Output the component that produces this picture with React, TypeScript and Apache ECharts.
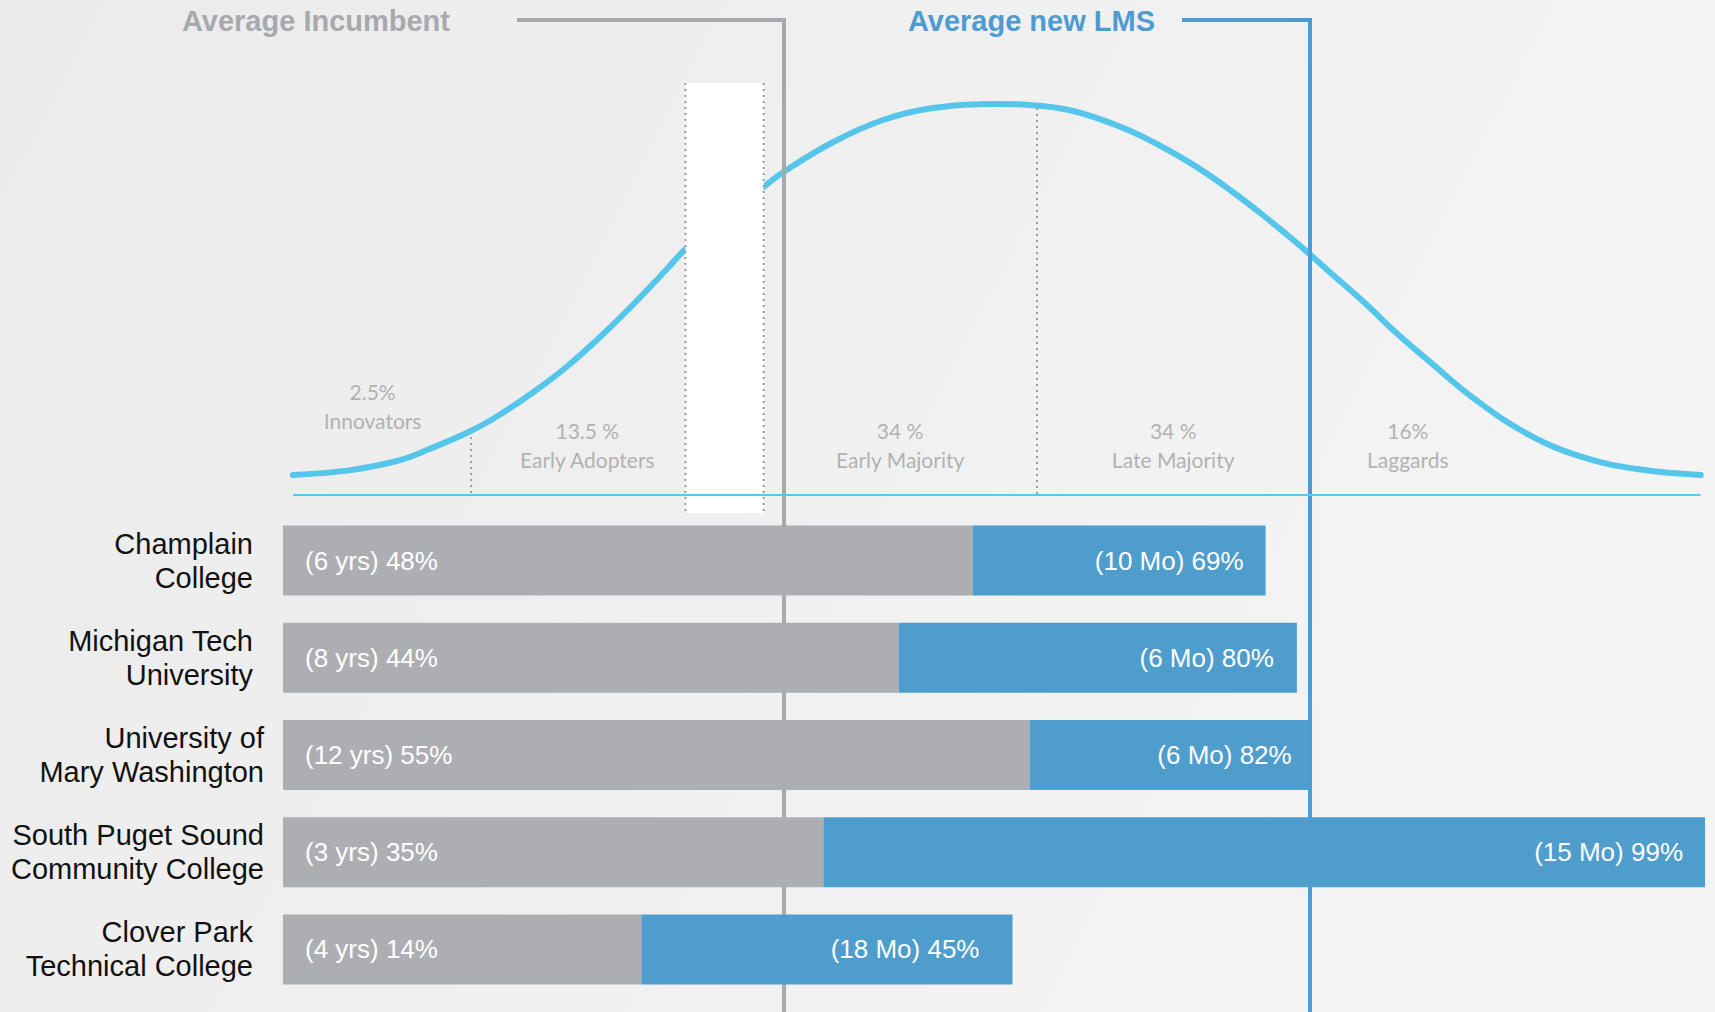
import React, { useEffect, useRef } from "react";
import * as echarts from "echarts";

// ---------- data ----------
const institutions: string[][] = [
  ["Champlain", "College"],
  ["Michigan Tech", "University"],
  ["University of", "Mary Washington"],
  ["South Puget Sound", "Community College"],
  ["Clover Park", "Technical College"],
];
const categories = institutions.map((l) => l.join("\n"));
// bar lengths on a 0-100 track
const incumbentBar = [48.5, 43.3, 52.5, 38.0, 25.2];
const newLmsBar = [20.6, 28.0, 19.7, 62.0, 26.1];
const incumbentLabels = ["(6 yrs) 48%", "(8 yrs) 44%", "(12 yrs) 55%", "(3 yrs) 35%", "(4 yrs) 14%"];
const newLmsLabels = ["(10 Mo) 69%", "(6 Mo) 80%", "(6 Mo) 82%", "(15 Mo) 99%", "(18 Mo) 45%"];

const averageNames = ["Average Incumbent", "Average new LMS"];
const averageValues = [35.2, 72.2];

// adoption bell curve (x on the same 0-100 track, y 0-100 height)
const curveX = [0.7, 4.5, 8.0, 10.3, 13.2, 15.3, 17.6, 20.0, 22.3, 24.6, 27.0, 28.3, 33.8, 35.2, 38.7, 42.2, 45.7, 50.3, 52.5, 54.9, 57.2, 59.6, 61.9, 64.3, 66.6, 68.9, 71.3, 73.6, 76.0, 78.3, 80.7, 83.8, 87.6, 91.4, 95.2, 99.7];
const curveY = [5.0, 6.1, 8.5, 11.5, 16.0, 20.2, 25.7, 32.2, 39.5, 47.5, 56.5, 61.4, 77.0, 80.75, 88.25, 93.75, 96.75, 97.75, 97.5, 96.5, 94.3, 91.0, 86.9, 81.9, 76.25, 70.0, 63.0, 55.75, 48.25, 40.5, 33.15, 24.0, 15.1, 9.45, 6.5, 5.0];

const segmentShares = ["2.5%", "13.5 %", "34 %", "34 %", "16%"];
const segmentNames = ["Innovators", "Early Adopters", "Early Majority", "Late Majority", "Laggards"];
const segmentCenters = [6.3, 21.4, 43.4, 62.6, 79.1];
const segmentLabelHeights = [22.25, 12.6, 12.6, 12.6, 12.6];

const dividerX = [13.2, 53.0];
const dividerTop = [14.5, 96.75];
const baselineRange = [0.7, 99.7];
const chasmX = [28.3, 33.8];
const chasmY = [103, -4.5];

// ---------- styles ----------
const GRAY = "#adaeb2";
const BLUE = "#4f9dcd";
const CURVE = "#55c6e9";
const averageStyles = [
  { color: "#a8a9ad", leader: 267, gap: 67 },
  { color: "#4d9bd0", leader: 128, gap: 27 },
];
const newLabelPad = [22, 23, 18, 22, 33];
const labelShift = [11, 11, 0, 0, 11];

export default function App() {
  const ref = useRef<HTMLDivElement>(null);

  useEffect(() => {
    if (!ref.current) return;
    const chart = echarts.init(ref.current, undefined, { renderer: "svg" });

    const option: any = {
      animation: false,
      backgroundColor: {
        type: "linear",
        x: 0,
        y: 0,
        x2: 1,
        y2: 0.3,
        colorStops: [
          { offset: 0, color: "#ebebeb" },
          { offset: 1, color: "#f4f4f4" },
        ],
      },
      grid: [
        { left: 283, right: 10, top: 95, height: 400 },
        { left: 283, right: 10, top: 512, height: 486 },
      ],
      xAxis: [
        { gridIndex: 0, type: "value", min: 0, max: 100, show: false },
        { gridIndex: 1, type: "value", min: 0, max: 100, show: false },
      ],
      yAxis: [
        { gridIndex: 0, type: "value", min: 0, max: 100, show: false },
        {
          gridIndex: 1,
          type: "category",
          inverse: true,
          data: categories,
          axisLine: { show: false },
          axisTick: { show: false },
          splitLine: { show: false },
          axisLabel: {
            margin: 19,
            formatter: (_v: string, i: number) =>
              institutions[i].map((l) => `{${labelShift[i] ? "s" : "n"}|${l}}`).join("\n"),
            rich: {
              n: { fontSize: 29, fontFamily: "Liberation Sans, Arial", color: "#111", lineHeight: 34, align: "right" },
              s: {
                fontSize: 29,
                fontFamily: "Liberation Sans, Arial",
                color: "#111",
                lineHeight: 34,
                align: "right",
                padding: [0, 11, 0, 0],
              },
            },
          },
        },
      ],
      series: [
        {
          type: "line",
          xAxisIndex: 0,
          yAxisIndex: 0,
          data: curveX.map((x, i) => [x, curveY[i]]),
          smooth: 0.4,
          symbol: "none",
          silent: true,
          z: 1,
          lineStyle: { color: CURVE, width: 6, cap: "round" },
          markLine: {
            silent: true,
            symbol: ["none", "none"],
            label: { show: false },
            data: [
              [
                { coord: [baselineRange[0], 0], lineStyle: { color: "#5bc8ea", width: 2, type: "solid" } },
                { coord: [baselineRange[1], 0] },
              ],
              ...dividerX.map((x, i) => [
                { coord: [x, dividerTop[i]], lineStyle: { color: "#9c9c9c", width: 2, type: [2, 4] } },
                { coord: [x, 0] },
              ]),
            ],
          },
        },
        {
          type: "scatter",
          xAxisIndex: 0,
          yAxisIndex: 0,
          silent: true,
          symbolSize: 1,
          itemStyle: { color: "rgba(0,0,0,0)" },
          z: 2,
          data: segmentCenters.map((x, i) => [x, segmentLabelHeights[i]]),
          label: {
            show: true,
            position: "inside",
            formatter: (p: any) => `${segmentShares[p.dataIndex]}\n${segmentNames[p.dataIndex]}`,
            fontFamily: "Lato, Open Sans, sans-serif",
            fontSize: 21,
            lineHeight: 29,
            color: "#a0a0a0",
            align: "center",
          },
        },
        {
          type: "custom",
          xAxisIndex: 0,
          yAxisIndex: 0,
          silent: true,
          clip: false,
          z: 2,
          data: [[chasmX[0], chasmX[1], chasmY[0], chasmY[1]]],
          renderItem: (_p: any, api: any) => {
            const a = api.coord([api.value(0), api.value(2)]);
            const b = api.coord([api.value(1), api.value(3)]);
            const dot = { stroke: "#9c9c9c", lineWidth: 2, lineDash: [2, 4] };
            return {
              type: "group",
              children: [
                { type: "rect", shape: { x: a[0], y: a[1], width: b[0] - a[0], height: b[1] - a[1] }, style: { fill: "#ffffff" } },
                { type: "line", shape: { x1: a[0], y1: a[1], x2: a[0], y2: b[1] }, style: dot },
                { type: "line", shape: { x1: b[0], y1: a[1], x2: b[0], y2: b[1] }, style: dot },
              ],
            };
          },
        },
        {
          type: "custom",
          xAxisIndex: 1,
          yAxisIndex: 1,
          silent: true,
          clip: false,
          z: 3,
          data: averageValues.map((v, i) => [v, i]),
          renderItem: (p: any, api: any) => {
            const i = p.dataIndex;
            const st = averageStyles[i];
            const x = Math.round(api.coord([api.value(0), 0])[0]);
            const top = 20;
            const bottom = api.getHeight();
            return {
              type: "group",
              children: [
                { type: "line", shape: { x1: x, y1: top - 2, x2: x, y2: bottom }, style: { stroke: st.color, lineWidth: 4 } },
                { type: "line", shape: { x1: x - st.leader, y1: top, x2: x + 2, y2: top }, style: { stroke: st.color, lineWidth: 4 } },
                {
                  type: "text",
                  style: {
                    text: averageNames[i],
                    x: x - st.leader - st.gap,
                    y: top + 1,
                    align: "right",
                    verticalAlign: "middle",
                    fill: st.color,
                    font: "bold 29px 'Liberation Sans', Arial, sans-serif",
                  },
                },
              ],
            };
          },
        },
        {
          type: "bar",
          name: "Incumbent",
          xAxisIndex: 1,
          yAxisIndex: 1,
          stack: "total",
          barWidth: 70,
          z: 4,
          silent: true,
          itemStyle: { color: GRAY },
          data: incumbentBar,
          label: {
            show: true,
            position: "insideLeft",
            distance: 22,
            formatter: (p: any) => incumbentLabels[p.dataIndex],
            color: "#fff",
            fontSize: 26,
            fontFamily: "Liberation Sans, Arial",
          },
        },
        {
          type: "bar",
          name: "New LMS",
          xAxisIndex: 1,
          yAxisIndex: 1,
          stack: "total",
          barWidth: 70,
          z: 4,
          silent: true,
          itemStyle: { color: BLUE },
          data: newLmsBar.map((v, i) => ({ value: v, label: { distance: newLabelPad[i] } })),
          label: {
            show: true,
            position: "insideRight",
            formatter: (p: any) => newLmsLabels[p.dataIndex],
            color: "#fff",
            fontSize: 26,
            fontFamily: "Liberation Sans, Arial",
          },
        },
      ],
    };

    chart.setOption(option);
    return () => chart.dispose();
  }, []);

  return (
    <div
      ref={ref}
      style={{ position: "fixed", left: 0, top: 0, width: "1715px", height: "1012px" }}
    />
  );
}
